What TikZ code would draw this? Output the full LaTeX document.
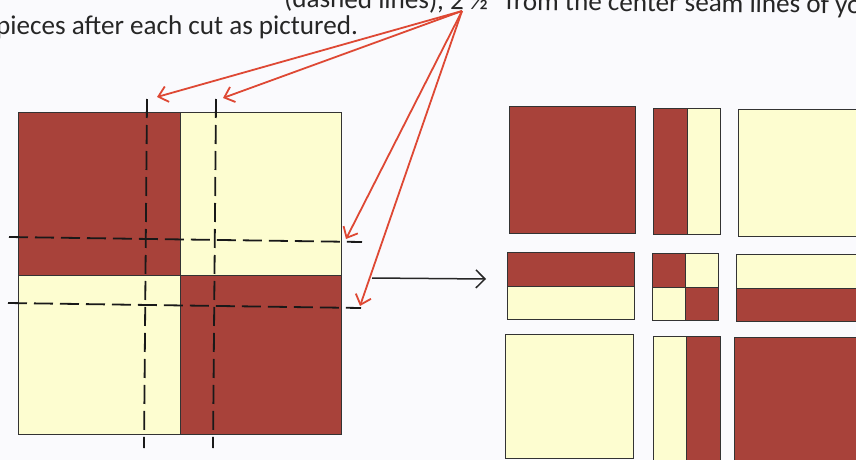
\documentclass[tikz,border=0pt]{standalone}
\usepackage{fontspec}
\setmainfont{Carlito}
\usetikzlibrary{arrows.meta}
\definecolor{quiltred}{RGB}{168,66,58}
\definecolor{quiltcream}{RGB}{253,253,208}
\definecolor{arrowred}{RGB}{222,72,52}
\definecolor{paper}{RGB}{250,250,253}
\tikzset{
  patch/.style={draw=black!80, line width=0.7pt},
  redp/.style={patch, fill=quiltred},
  creamp/.style={patch, fill=quiltcream},
  cutline/.style={draw=black!90, line width=1.8pt, dash pattern=on 19pt off 7pt},
  pointer/.style={draw=arrowred, line width=1.8pt, -{Straight Barb[length=9pt,width=16pt,line width=1.8pt]}},
  blackarrow/.style={draw=black!85, line width=1.5pt, -{Straight Barb[length=9pt,width=18pt,line width=1.5pt]}},
  txt/.style={font=\fontsize{27.1}{31}\selectfont, text=black!85, inner sep=0pt, anchor=base west}
}
\begin{document}
\begin{tikzpicture}[x=1pt,y=-1pt]
\useasboundingbox (0,0) rectangle (856,460);
\clip (0,0) rectangle (856,460);
\fill[paper] (0,0) rectangle (856,460);
% text
\node[txt, rotate=-0.6] (line1) at (284,7.5) {(dashed lines), 2 ½" from the center seam lines of yo};
\node[txt] (line2) at (-4,35) {pieces after each cut as pictured.};
% left block
\path[redp] (18,112) rectangle (180,275);
\path[creamp] (180,112) rectangle (341,275);
\path[creamp] (18,275) rectangle (180,434);
\path[redp] (180,275) rectangle (341,434);
\draw[patch, fill=none] (18,112) rectangle (341,434);
% dashed cut lines
\coordinate (v1t) at (147,99); \coordinate (v1b) at (144,448);
\coordinate (v2t) at (216,99); \coordinate (v2b) at (213,448);
\coordinate (h1l) at (9,237); \coordinate (h1r) at (362,242);
\coordinate (h2l) at (8,303); \coordinate (h2r) at (361,308);
\draw[cutline] (v1t) -- (v1b);
\draw[cutline] (v2t) -- (v2b);
\draw[cutline] (h1l) -- (h1r);
\draw[cutline] (h2l) -- (h2r);
% red pointers
\coordinate (src) at (462,11);
\coordinate (t1) at (157,97);
\coordinate (t2) at (223,98);
\coordinate (t3) at (346,239);
\coordinate (t4) at (360,306);
\draw[pointer] (src) -- (t1);
\draw[pointer] (src) -- (t2);
\draw[pointer] (src) -- (t3);
\draw[pointer] (src) -- (t4);
% black arrow
\coordinate (a1) at (372,278);
\coordinate (a2) at (486,279);
\draw[blackarrow] (a1) -- (a2);
% right pieces, row 1
\path[redp] (509,106) rectangle (635,233);
\path[redp] (653,108) rectangle (687,234);
\path[creamp] (687,108) rectangle (720,234);
\path[creamp] (738,109) rectangle (870,236);
% row 2
\path[redp] (507,252) rectangle (634,286);
\path[creamp] (507,286) rectangle (634,319);
\path[redp] (652,253) rectangle (685,287);
\path[creamp] (685,253) rectangle (718,287);
\path[creamp] (652,287) rectangle (685,320);
\path[redp] (685,287) rectangle (718,320);
\path[creamp] (736,254) rectangle (870,288);
\path[redp] (736,288) rectangle (870,321);
% row 3
\path[creamp] (505,334) rectangle (633,458);
\path[creamp] (653,336) rectangle (686,470);
\path[redp] (686,336) rectangle (720,470);
\path[redp] (734,337) rectangle (870,470);
\end{tikzpicture}
\end{document}
